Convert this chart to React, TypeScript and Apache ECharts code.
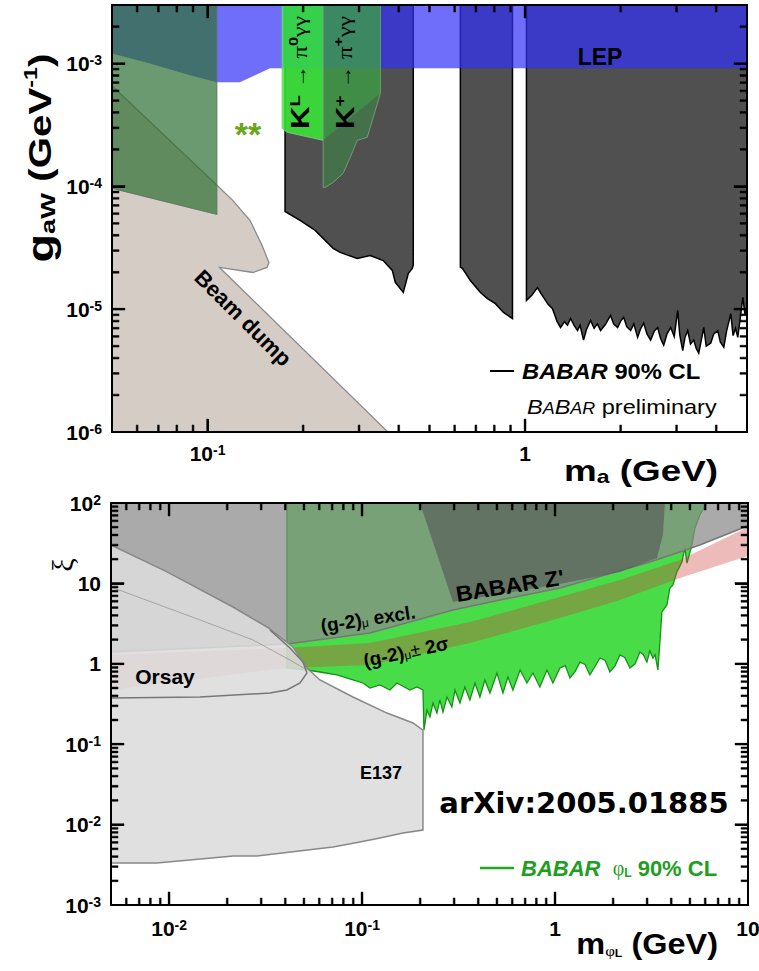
import React, { useEffect, useRef } from "react";
import * as echarts from "echarts";

type P = [number, number];

// ================= TOP PANEL : g_aW vs m_a =================
const topMassRange: P = [0.05, 5];
const topCouplingRange: P = [1e-6, 3e-3];

const topXMajor = [0.1, 1];
const topXMinor = [0.06, 0.07, 0.08, 0.09, 0.2, 0.3, 0.4, 0.5, 0.6, 0.7, 0.8, 0.9, 2, 3, 4];
const topYMajor = [1e-5, 1e-4, 1e-3];
const topYMinor = [
  2e-6, 3e-6, 4e-6, 5e-6, 6e-6, 7e-6, 8e-6, 9e-6,
  2e-5, 3e-5, 4e-5, 5e-5, 6e-5, 7e-5, 8e-5, 9e-5,
  2e-4, 3e-4, 4e-4, 5e-4, 6e-4, 7e-4, 8e-4, 9e-4, 2e-3,
];

const beamDump: P[] = [
  [0.05, 6.6e-4], [0.107, 1.02e-4], [0.12, 7.7e-5], [0.136, 5.3e-5], [0.1485, 3.3e-5],
  [0.156, 2.4e-5], [0.154, 2.19e-5], [0.139, 1.99e-5], [0.109, 2.19e-5], [0.37, 1e-6], [0.05, 1e-6],
];
const babarLow: P[] = [
  [0.1754, 3e-3], [0.1754, 6.25e-5], [0.1956, 5.28e-5], [0.2182, 4.38e-5], [0.2486, 3.13e-5],
  [0.2616, 2.9e-5], [0.296, 2.59e-5], [0.3253, 2.74e-5], [0.3575, 2.49e-5], [0.3818, 2.07e-5],
  [0.3902, 1.65e-5], [0.4135, 1.37e-5], [0.4287, 1.95e-5], [0.4413, 2.15e-5], [0.4445, 2.3e-5], [0.4445, 3e-3],
];
const babarMid: P[] = [
  [0.6254, 3e-3], [0.6254, 2.2e-5], [0.6347, 2.15e-5], [0.6727, 1.71e-5], [0.7234, 1.37e-5],
  [0.7611, 1.22e-5], [0.8064, 1.11e-5], [0.8549, 9.4e-6], [0.9127, 8.4e-6], [0.9127, 3e-3],
];
const babarHigh: P[] = [
  [1.01, 3e-3], [1.01, 1.18e-5], [1.05, 1.3e-5], [1.094, 1.5e-5], [1.12, 1.35e-5], [1.143, 1.25e-5],
  [1.18, 1.1e-5], [1.22, 1.01e-5], [1.26, 8.0e-6], [1.293, 7.1e-6], [1.33, 7.9e-6], [1.36, 7.4e-6],
  [1.391, 8.4e-6], [1.43, 7.3e-6], [1.463, 6.7e-6], [1.49, 7.4e-6], [1.528, 5.6e-6], [1.56, 6.8e-6],
  [1.608, 8.1e-6], [1.65, 7.0e-6], [1.69, 7.6e-6], [1.729, 6.7e-6], [1.79, 7.5e-6], [1.859, 8.9e-6],
  [1.9, 7.6e-6], [1.956, 7.1e-6], [2.0, 8.0e-6], [2.044, 8.6e-6], [2.09, 7.2e-6], [2.15, 6.7e-6],
  [2.2, 7.6e-6], [2.262, 5.9e-6], [2.31, 6.9e-6], [2.363, 7.7e-6], [2.42, 6.3e-6], [2.486, 5.6e-6],
  [2.55, 6.6e-6], [2.616, 7.1e-6], [2.67, 5.8e-6], [2.733, 5.1e-6], [2.8, 6.3e-6], [2.875, 7.1e-6],
  [2.95, 6.0e-6], [3.025, 9.8e-6], [3.07, 6.2e-6], [3.137, 4.6e-6], [3.19, 5.9e-6], [3.253, 6.7e-6],
  [3.32, 5.2e-6], [3.398, 5.6e-6], [3.46, 4.8e-6], [3.524, 4.4e-6], [3.59, 5.6e-6], [3.654, 7.1e-6],
  [3.72, 5.0e-6], [3.845, 5.3e-6], [3.93, 6.3e-6], [4.046, 6.7e-6], [4.12, 5.4e-6], [4.226, 4.9e-6],
  [4.31, 6.6e-6], [4.445, 9.2e-6], [4.52, 6.1e-6], [4.6, 7.0e-6], [4.677, 5.9e-6], [4.76, 8.4e-6],
  [4.851, 1.25e-5], [4.93, 9.0e-6], [5, 1.03e-5], [5, 3e-3],
];
const lep: P[] = [
  [0.05, 3e-3], [5, 3e-3], [5, 9.16e-4], [0.1573, 9.16e-4], [0.1265, 7.04e-4],
  [0.107, 7.04e-4], [0.088, 8.03e-4], [0.0658, 1.0e-3], [0.05, 1.21e-3],
];
const astroGreen: P[] = [[0.05, 3e-3], [0.107, 3e-3], [0.107, 5.91e-5], [0.05, 9.63e-5]];
const kLong: P[] = [[0.1717, 3e-3], [0.2312, 3e-3], [0.2312, 2.37e-4], [0.178, 2.76e-4], [0.1717, 2.97e-4]];
const kPlus: P[] = [
  [0.2312, 3e-3], [0.3503, 3e-3], [0.3503, 5.73e-4], [0.3183, 2.51e-4], [0.296, 2.37e-4],
  [0.2812, 1.72e-4], [0.2674, 1.28e-4], [0.2486, 1.078e-4], [0.2346, 9.81e-5], [0.2312, 9.81e-5],
];
const kPlusUpper: P[] = [[0.2312, 3e-3], [0.3503, 3e-3], [0.3503, 5.73e-4], [0.2312, 2.37e-4]];

// ================= BOTTOM PANEL : xi vs m_phiL =================
const botMassRange: P = [0.005, 10];
const botXiRange: P = [1e-3, 100];

const botXMajor = [0.01, 0.1, 1];
const botXMinor = [
  0.006, 0.007, 0.008, 0.009, 0.02, 0.03, 0.04, 0.05, 0.06, 0.07, 0.08, 0.09,
  0.2, 0.3, 0.4, 0.5, 0.6, 0.7, 0.8, 0.9, 2, 3, 4, 5, 6, 7, 8, 9,
];
const botYMajor = [0.01, 0.1, 1, 10];
const botYMinor = [
  0.002, 0.003, 0.004, 0.005, 0.006, 0.007, 0.008, 0.009,
  0.02, 0.03, 0.04, 0.05, 0.06, 0.07, 0.08, 0.09,
  0.2, 0.3, 0.4, 0.5, 0.6, 0.7, 0.8, 0.9,
  2, 3, 4, 5, 6, 7, 8, 9, 20, 30, 40, 50, 60, 70, 80, 90,
];

const phiLExcl: P[] = [
  [0.0408, 100], [6.12, 100], [5.63, 70.9], [5.31, 48.9], [5.12, 30.0], [4.825, 17.9], [4.711, 27.6],
  [4.545, 18.5], [4.281, 13.9], [4.082, 9.55], [3.938, 8.77], [3.801, 5.39], [3.58, 4.41], [3.496, 1.87],
  [3.413, 0.837], [3.3, 1.3], [3.216, 1.18], [3.1, 1.45], [2.993, 1.05], [2.87, 1.3], [2.754, 1.4], [2.6, 1.0],
  [2.444, 0.887], [2.3, 1.2], [2.169, 1.29], [2.05, 0.95], [1.924, 0.791], [1.82, 1.1], [1.709, 1.18], [1.6, 0.9],
  [1.516, 0.726], [1.43, 0.98], [1.346, 1.05], [1.27, 0.8], [1.195, 0.666], [1.13, 0.95], [1.06, 0.887],
  [0.975, 0.577], [0.908, 0.837], [0.835, 0.515], [0.768, 0.768], [0.715, 0.577], [0.659, 0.837], [0.605, 0.472],
  [0.57, 0.685], [0.537, 0.433], [0.5, 0.768], [0.46, 0.433], [0.433, 0.629], [0.408, 0.386], [0.385, 0.577],
  [0.362, 0.355], [0.341, 0.515], [0.3215, 0.325], [0.303, 0.472], [0.292, 0.29], [0.2754, 0.386], [0.2626, 0.251],
  [0.2532, 0.355], [0.2444, 0.244], [0.2331, 0.325], [0.2248, 0.218], [0.217, 0.266], [0.2093, 0.15], [0.2068, 0.472],
  [0.1925, 0.515], [0.1771, 0.472], [0.1517, 0.577], [0.1395, 0.472], [0.1238, 0.545], [0.1099, 0.5],
  [0.1011, 0.577], [0.0897, 0.629], [0.0741, 0.726], [0.0605, 0.791], [0.0518, 0.837], [0.0408, 0.887],
];
const g2Band: P[] = [
  [0.005, 1.29], [0.0408, 1.57], [0.1099, 1.81], [0.3622, 3.31], [1.06, 6.77], [2.169, 11.0], [4.438, 19.5], [10, 50.3],
  [10, 21.9], [4.438, 11.7], [2.169, 6.22], [1.06, 3.71], [0.3622, 1.81], [0.1099, 0.966], [0.0408, 0.887], [0.005, 0.472],
];
const g2Excl: P[] = [
  [0.005, 100], [10, 100], [10, 53.3], [9.63, 50.3], [5.63, 30.0], [4.438, 24.6], [3.102, 18.5], [1.709, 12.2],
  [1.06, 8.77], [0.5183, 6.2], [0.2958, 4.67], [0.1099, 2.42], [0.0408, 1.76], [0.005, 1.4],
];
const zPrime: P[] = [
  [0.1996, 100], [3.71, 100], [3.622, 40.0], [3.373, 20.7], [2.169, 13.9], [1.06, 9.83], [0.5183, 7.38], [0.2958, 5.87],
];
const e137: P[] = [
  [0.005, 30.0], [0.00976, 13.9], [0.02144, 5.09], [0.03216, 2.87], [0.04385, 1.62], [0.0518, 0.887],
  [0.0605, 0.629], [0.0897, 0.386], [0.1346, 0.244], [0.1836, 0.1835], [0.2068, 0.15], [0.2068, 0.00857],
  [0.1629, 0.00786], [0.1238, 0.00681], [0.0975, 0.00608], [0.07066, 0.00527], [0.02854, 0.00407],
  [0.02144, 0.00407], [0.00866, 0.00333], [0.005, 0.00333],
];
const orsayEdge: P[] = [
  [0.0333, 2.63], [0.0423, 1.57], [0.0494, 1.05], [0.0518, 0.768], [0.0477, 0.577], [0.0408, 0.472],
  [0.0333, 0.433], [0.01446, 0.386], [0.005, 0.375],
];
const faintEdge: P[] = [[0.005, 9.02], [0.01446, 3.51], [0.0272, 1.98], [0.0423, 1.115], [0.0518, 0.837]];

// ================= helpers =================
const SANS = '"Liberation Sans", Arial, Helvetica, sans-serif';
const SERIF = '"Liberation Serif", "DejaVu Serif", serif';

let zCounter = 1;
function area(pts: P[], grid: number, style: any) {
  const z = zCounter++;
  return {
    type: "custom", coordinateSystem: "cartesian2d", xAxisIndex: grid, yAxisIndex: grid,
    silent: true, z, data: pts,
    renderItem: (params: any, api: any) => {
      if (params.dataIndex !== 0) return null;
      return { type: "polygon", shape: { points: pts.map((p) => api.coord(p)) }, style };
    },
  };
}
function curve(pts: P[], grid: number, style: any) {
  const z = zCounter++;
  return {
    type: "custom", coordinateSystem: "cartesian2d", xAxisIndex: grid, yAxisIndex: grid,
    silent: true, z, data: pts,
    renderItem: (params: any, api: any) => {
      if (params.dataIndex !== 0) return null;
      return { type: "polyline", shape: { points: pts.map((p) => api.coord(p)) }, style: { fill: "none", ...style } };
    },
  };
}
// tick comb for one side of a panel; anchored on an interior item, tick positions from the panel's scales
function tickComb(grid: number, xr: P, yr: P, major: number[], minor: number[], side: string) {
  const z = zCounter++;
  const horiz = side === "b" || side === "t";
  const vals: P[] = [...major.map((v) => [v, 13] as P), ...minor.map((v) => [v, 7] as P)].sort((p, q) => p[0] - q[0]);
  const centre: P = [Math.sqrt(xr[0] * xr[1]), Math.sqrt(yr[0] * yr[1])];
  return {
    type: "custom", coordinateSystem: "cartesian2d", xAxisIndex: grid, yAxisIndex: grid,
    silent: true, z, clip: false, data: [centre],
    renderItem: (_params: any, api: any) => {
      const pts: number[][] = [];
      const w = 0.9;
      vals.forEach(([v, len]) => {
        const a = horiz ? [v, side === "b" ? yr[0] : yr[1]] : [side === "l" ? xr[0] : xr[1], v];
        const c = api.coord(a);
        if (side === "b") pts.push([c[0] - w, c[1]], [c[0] - w, c[1] - len], [c[0] + w, c[1] - len], [c[0] + w, c[1]]);
        else if (side === "t") pts.push([c[0] - w, c[1]], [c[0] - w, c[1] + len], [c[0] + w, c[1] + len], [c[0] + w, c[1]]);
        else if (side === "l") pts.push([c[0], c[1] - w], [c[0] + len, c[1] - w], [c[0] + len, c[1] + w], [c[0], c[1] + w]);
        else pts.push([c[0], c[1] - w], [c[0] - len, c[1] - w], [c[0] - len, c[1] + w], [c[0], c[1] + w]);
      });
      return { type: "polygon", shape: { points: pts }, style: { fill: "#000", stroke: "#000", lineWidth: 0.5 } };
    },
  };
}
function powLabel(v: number) {
  const e = Math.log10(v);
  const r = Math.round(e);
  if (Math.abs(e - r) > 1e-6) return "";
  if (r === 0) return "1";
  if (r === 1) return "10";
  return "10{sup|" + r + "}";
}
const axisLabelStyle = (margin: number) => ({
  formatter: powLabel, margin, color: "#000", fontFamily: SANS, fontWeight: "bold", fontSize: 21,
  showMinLabel: true, showMaxLabel: true,
  rich: { sup: { fontFamily: SANS, fontWeight: "bold", fontSize: 14, color: "#000", verticalAlign: "top" } },
});
const nativeTick = { show: true, inside: true, length: 13, lineStyle: { color: "#000", width: 1.8 } };
const logAxis = (grid: number, r: P, margin: number, position?: string) => ({
  type: "log", logBase: 10, gridIndex: grid, min: r[0], max: r[1], z: 60,
  ...(position ? { position } : {}),
  axisLine: { show: false }, axisTick: nativeTick, splitLine: { show: false },
  minorTick: { show: false },
  axisLabel: position ? { show: false } : axisLabelStyle(margin),
});
function T(x: number, y: number, text: string, style: any, extra: any = {}) {
  const a = style.align || "center";
  return {
    type: "text", x, y, z: 200, silent: true, ...extra,
    style: {
      text, fill: "#000", fontFamily: SANS, fontWeight: "bold", fontSize: 20,
      textAlign: a, textVerticalAlign: "middle", verticalAlign: "middle", ...style, align: a,
    },
  };
}
const B = (size: number, extra: any = {}) => ({ fontFamily: SANS, fontWeight: "bold", fontSize: size, ...extra });
const kaonRich = {
  k: B(25), ks: B(15, { verticalAlign: "top" }), ar: B(18), pi: { fontFamily: SERIF, fontSize: 20 },
  ps: B(13, { verticalAlign: "top" }), g: { fontFamily: SERIF, fontSize: 19 },
};

export default function App() {
  const ref = useRef<HTMLDivElement>(null);
  useEffect(() => {
    document.body.style.margin = "0";
    if (!ref.current) return;
    const chart = echarts.init(ref.current, undefined, { renderer: "svg" });
    zCounter = 1;
    const series: any[] = [
      // top panel
      area(beamDump, 0, { fill: "#d5ccc5", stroke: "#8a8a8a", lineWidth: 1.3 }),
      area(babarLow, 0, { fill: "#505050", stroke: "#000", lineWidth: 1.5 }),
      area(babarMid, 0, { fill: "#505050", stroke: "#000", lineWidth: 1.5 }),
      area(babarHigh, 0, { fill: "#505050", stroke: "#000", lineWidth: 1.5 }),
      area(lep, 0, { fill: "rgba(49,49,250,0.7)" }),
      area(astroGreen, 0, { fill: "rgba(46,113,54,0.71)", stroke: "rgba(90,120,90,0.9)", lineWidth: 1 }),
      area(kLong, 0, { fill: "rgba(55,235,55,0.85)", stroke: "rgba(130,200,130,0.9)", lineWidth: 1 }),
      area(kPlus, 0, { fill: "rgba(60,140,70,0.55)", stroke: "rgba(120,160,120,0.9)", lineWidth: 1 }),
      area(kPlusUpper, 0, { fill: "rgba(60,170,70,0.5)" }),
      // bottom panel
      area(phiLExcl, 1, { fill: "rgba(40,215,40,0.85)", stroke: "#129412", lineWidth: 1.3 }),
      area(g2Band, 1, { fill: "rgba(205,60,60,0.35)" }),
      area(g2Excl, 1, { fill: "rgba(138,138,138,0.73)", stroke: "#777", lineWidth: 1.5 }),
      area(zPrime, 1, { fill: "rgba(85,85,85,0.6)" }),
      area(e137, 1, { fill: "rgba(220,220,220,0.88)", stroke: "#888", lineWidth: 1.5 }),
      curve(orsayEdge, 1, { stroke: "#777", lineWidth: 1.5 }),
      curve(faintEdge, 1, { stroke: "rgba(130,130,130,0.6)", lineWidth: 1 }),
    ];
    (["b", "t"] as const).forEach((s) => {
      series.push(tickComb(0, topMassRange, topCouplingRange, topXMajor, topXMinor, s));
      series.push(tickComb(1, botMassRange, botXiRange, botXMajor, botXMinor, s));
    });
    (["l", "r"] as const).forEach((s) => {
      series.push(tickComb(0, topMassRange, topCouplingRange, topYMajor, topYMinor, s));
      series.push(tickComb(1, botMassRange, botXiRange, botYMajor, botYMinor, s));
    });

    const graphic: any[] = [
      T(600, 57, "LEP", { fontSize: 23 }),
      T(248, 134, "**", { fontSize: 34, fill: "#6aa61c" }),
      T(300, 129, "{k|K}{ks|L} {ar|→} {pi|π}{ps|0}{g|γγ}", { align: "left", rich: kaonRich },
        { rotation: Math.PI / 2, scaleX: 1.25 }),
      T(345, 129, "{k|K}{ks|+} {ar|→} {pi|π}{ps|+}{g|γγ}", { align: "left", rich: kaonRich },
        { rotation: Math.PI / 2, scaleX: 1.25 }),
      T(243, 318, "Beam dump", { fontSize: 22 }, { rotation: -0.78 }),
      { type: "line", z: 200, silent: true, shape: { x1: 490, y1: 371, x2: 514, y2: 371 }, style: { stroke: "#000", lineWidth: 2 } },
      T(522, 371, "{bi|BABAR} 90% CL", { align: "left", fontSize: 22, rich: { bi: B(22, { fontStyle: "italic" }) } },
        { scaleX: 1.08 }),
      T(527, 407, "{c|B}{s|A}{c|B}{s|AR}{p| preliminary}", {
        align: "left", fontWeight: "normal",
        rich: {
          c: { fontFamily: SANS, fontSize: 21, fontStyle: "italic", verticalAlign: "bottom" },
          s: { fontFamily: SANS, fontSize: 16, fontStyle: "italic", verticalAlign: "bottom", padding: [0, 0, 1, 0] },
          p: { fontFamily: SANS, fontSize: 21, verticalAlign: "bottom" },
        },
      }, { scaleX: 1.12 }),
      T(40, 158, "{g|g}{sub|aW}{b| (GeV}{sup|-1}{b|)}", {
        rich: {
          g: B(36), sub: B(21, { verticalAlign: "bottom" }), b: B(31), sup: B(18, { verticalAlign: "top" }),
        },
      }, { rotation: Math.PI / 2, scaleX: 1.3 }),
      T(718, 471, "{m|m}{sub|a}{b| (GeV)}", {
        align: "right",
        rich: { m: B(29), sub: B(18, { verticalAlign: "bottom" }), b: B(29) },
      }, { scaleX: 1.27 }),
      // bottom
      T(510, 586, "BABAR Z'", { fontSize: 22 }, { rotation: 0.16, scaleX: 1.05 }),
      T(368, 619, "(g-2){sub|μ} excl.", { fontSize: 19, rich: { sub: { fontFamily: SANS, fontSize: 12, verticalAlign: "bottom" } } }, { rotation: 0.15 }),
      T(406, 652, "(g-2){sub|μ}{pm|±} 2σ", {
        fontSize: 19,
        rich: { sub: { fontFamily: SANS, fontSize: 12, verticalAlign: "bottom" }, pm: { fontFamily: SANS, fontSize: 18 } },
      }, { rotation: 0.21 }),
      T(165, 676, "Orsay", { fontSize: 21 }),
      T(381, 773, "E137", { fontSize: 18 }),
      T(584, 803, "arXiv:2005.01885", { fontFamily: '"DejaVu Sans", sans-serif', fontSize: 29 }),
      { type: "line", z: 200, silent: true, shape: { x1: 480, y1: 868, x2: 514, y2: 868 }, style: { stroke: "#22a822", lineWidth: 2.5 } },
      T(521, 868, "{bi|BABAR}  {phi|φ}{sub|L} 90% CL", {
        align: "left", fontSize: 22, fill: "#1f9e1f",
        rich: {
          bi: B(22, { fontStyle: "italic", fill: "#1f9e1f", color: "#1f9e1f" }),
          phi: { fontFamily: SERIF, fontSize: 20, fill: "#1f9e1f", color: "#1f9e1f" },
          sub: B(12, { verticalAlign: "bottom", fill: "#1f9e1f", color: "#1f9e1f" }),
        },
      }),
      T(718, 944, "{m|m}{sub|φ}{sub2|L}{b| (GeV)}", {
        align: "right",
        rich: {
          m: B(29), sub: { fontFamily: SERIF, fontSize: 15, verticalAlign: "bottom" },
          sub2: B(11, { verticalAlign: "bottom" }), b: B(29),
        },
      }, { scaleX: 1.12 }),
      T(62, 565, "ξ", { fontFamily: SERIF, fontWeight: "normal", fontSize: 30 }, { rotation: Math.PI / 2 }),
    ];

    chart.setOption({
      animation: false,
      backgroundColor: "#fff",
      grid: [
        { left: 112, top: 5, width: 635, height: 427, show: true, borderColor: "#000", borderWidth: 2, backgroundColor: "transparent", z: 100, outerBoundsMode: "none", containLabel: false },
        { left: 111, top: 503, width: 637, height: 402, show: true, borderColor: "#000", borderWidth: 2, backgroundColor: "transparent", z: 100, outerBoundsMode: "none", containLabel: false },
      ],
      xAxis: [
        logAxis(0, topMassRange, 11), logAxis(1, botMassRange, 13),
        logAxis(0, topMassRange, 0, "top"), logAxis(1, botMassRange, 0, "top"),
      ],
      yAxis: [
        logAxis(0, topCouplingRange, 10), logAxis(1, botXiRange, 10),
        logAxis(0, topCouplingRange, 0, "right"), logAxis(1, botXiRange, 0, "right"),
      ],
      series,
      graphic,
    });
    return () => chart.dispose();
  }, []);
  return <div ref={ref} style={{ width: 759, height: 971 }} />;
}
